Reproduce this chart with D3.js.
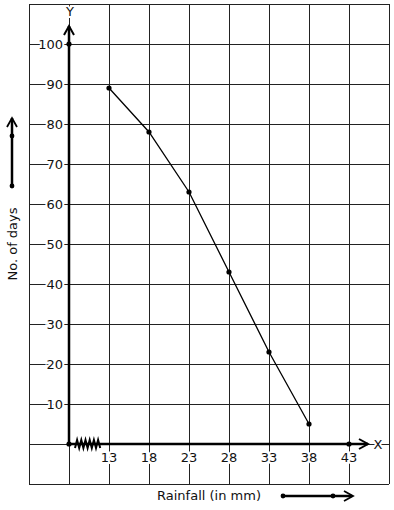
<!DOCTYPE html>
<html>
<head>
<meta charset="utf-8">
<script src="https://cdn.jsdelivr.net/npm/d3@7"></script>
<style>
  html, body { margin: 0; padding: 0; background: #fff; }
  text { font-family: "DejaVu Sans", sans-serif; font-size: 13px; fill: #111; }
</style>
</head>
<body>
<div id="grafico"></div>
<script>
// dados
const rainfall = [13, 18, 23, 28, 33, 38];
const days = [89, 78, 63, 43, 23, 5];
const xTicks = [13, 18, 23, 28, 33, 38, 43];
const yTicks = [10, 20, 30, 40, 50, 60, 70, 80, 90, 100];
const xGrid = [3, 8, 13, 18, 23, 28, 33, 38, 43, 48];
const yGrid = [-10, 0, 10, 20, 30, 40, 50, 60, 70, 80, 90, 100, 110];

const width = 394;
const height = 510;

const x = d3.scaleLinear().domain([3, 48]).range([29, 389]);
const y = d3.scaleLinear().domain([-10, 110]).range([484, 4]);

const svg = d3.select("#grafico")
    .append("svg")
    .attr("width", width)
    .attr("height", height)
    .attr("viewBox", [0, 0, width, height]);

// grelha
const grid = svg.append("g").attr("stroke", "#222").attr("stroke-width", 1).attr("shape-rendering", "crispEdges");
grid.selectAll("line.v").data(xGrid).join("line")
    .attr("x1", d => x(d)).attr("x2", d => x(d))
    .attr("y1", y(110)).attr("y2", y(-10));
grid.selectAll("line.h").data(yGrid).join("line")
    .attr("y1", d => y(d)).attr("y2", d => y(d))
    .attr("x1", x(3)).attr("x2", x(48));

// eixos
const axes = svg.append("g").attr("stroke", "#000").attr("stroke-width", 2.5).attr("fill", "none");
axes.append("line").attr("x1", x(8)).attr("x2", x(8)).attr("y1", y(0)).attr("y2", 26);
axes.append("path").attr("stroke-width", 2).attr("d", `M${x(8) - 5},${35} L${x(8)},${26} L${x(8) + 5},${35}`);
axes.append("line").attr("x1", x(8)).attr("x2", 368).attr("y1", y(0)).attr("y2", y(0));
axes.append("path").attr("stroke-width", 2).attr("d", `M${359},${y(0) - 5} L${368},${y(0)} L${359},${y(0) + 5}`);

// quebra do eixo X (zigue-zague)
const zz = [];
for (let i = 0; i <= 12; i++) {
    zz.push([75 + i * 2.1, y(0) + (i % 2 === 0 ? 4 : -4)]);
}
axes.append("path").attr("stroke-width", 2).attr("d", d3.line()(zz));

// pontos dos eixos
svg.append("g").selectAll("circle")
    .data([[8, 0], [8, 100], [43, 0]]).join("circle")
    .attr("cx", d => x(d[0])).attr("cy", d => y(d[1])).attr("r", 2.6).attr("fill", "#000");

// rótulos
svg.append("g").selectAll("text").data(yTicks).join("text")
    .attr("x", 63).attr("y", d => y(d)).attr("dy", "0.35em")
    .attr("text-anchor", "end")
    .attr("stroke", "#fff").attr("stroke-width", 4).attr("paint-order", "stroke")
    .text(d => d);
svg.append("g").selectAll("text").data(xTicks).join("text")
    .attr("x", d => x(d)).attr("y", 462)
    .attr("text-anchor", "middle")
    .attr("stroke", "#fff").attr("stroke-width", 4).attr("paint-order", "stroke")
    .text(d => d);

svg.append("text").attr("x", x(8) + 1).attr("y", 16).attr("text-anchor", "middle")
    .attr("stroke", "#fff").attr("stroke-width", 4).attr("paint-order", "stroke").text("Y");
svg.append("text").attr("x", 378).attr("y", y(0)).attr("dy", "0.35em").attr("text-anchor", "middle")
    .attr("stroke", "#fff").attr("stroke-width", 4).attr("paint-order", "stroke").text("X");

svg.append("text").attr("x", 209).attr("y", 500).attr("text-anchor", "middle").text("Rainfall (in mm)");
svg.append("text").attr("transform", "translate(17,244) rotate(-90)").attr("text-anchor", "middle").text("No. of days");

// setas decorativas
const deco = svg.append("g").attr("stroke", "#000").attr("fill", "none");
deco.append("line").attr("stroke-width", 2.5).attr("x1", 12).attr("x2", 12).attr("y1", 186).attr("y2", 118);
deco.append("path").attr("stroke-width", 1.8).attr("d", "M7,127 L12,118 L17,127");
deco.append("line").attr("stroke-width", 2.5).attr("x1", 283).attr("x2", 352).attr("y1", 496).attr("y2", 496);
deco.append("path").attr("stroke-width", 1.8).attr("d", "M344,491 L353,496 L344,501");
svg.append("g").selectAll("circle")
    .data([[12, 186], [12, 136], [283, 496], [333, 496]]).join("circle")
    .attr("cx", d => d[0]).attr("cy", d => d[1]).attr("r", 2.4).attr("fill", "#000");

// linha dos dados
const pts = rainfall.map((r, i) => [r, days[i]]);
svg.append("path")
    .attr("fill", "none").attr("stroke", "#000").attr("stroke-width", 1.3)
    .attr("d", d3.line().x(d => x(d[0])).y(d => y(d[1]))(pts));
svg.append("g").selectAll("circle").data(pts).join("circle")
    .attr("cx", d => x(d[0])).attr("cy", d => y(d[1])).attr("r", 2.6).attr("fill", "#000");
</script>
</body>
</html>
